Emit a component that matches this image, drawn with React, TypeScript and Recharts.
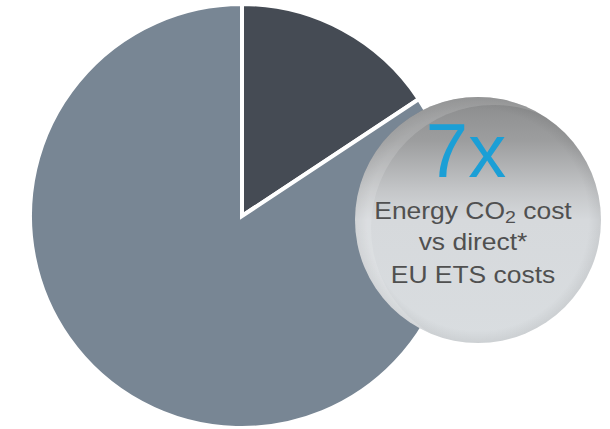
import React from "react";
import { PieChart, Pie, Cell } from "recharts";

const categories = ["Direct EU ETS costs", "Energy CO2 cost"];
const shares = [15.7, 84.3];
const colors = ["#454b54", "#788694"];
const multipleLabel = "7x";
const captionLines = ["Energy CO", "vs direct*", "EU ETS costs"];

const data = categories.map((name, i) => ({ name, value: shares[i] }));

const Badge = () => {
  const cx = 478;
  const cy = 220;
  const r = 123;
  const font = "Liberation Sans, Arial, sans-serif";
  return (
    <svg
      width={610}
      height={429}
      style={{ position: "absolute", left: 0, top: 0, pointerEvents: "none" }}
    >
      <defs>
        <linearGradient id="badgeFill" x1="0" y1="0" x2="0" y2="1">
          <stop offset="0" stopColor="#8a8b8c" />
          <stop offset="0.18" stopColor="#9d9e9f" />
          <stop offset="0.38" stopColor="#c4c6c8" />
          <stop offset="0.5" stopColor="#d6d9dc" />
          <stop offset="1" stopColor="#d9dde0" />
        </linearGradient>
        <radialGradient id="badgeRim" cx="0.5" cy="0.5" r="0.5">
          <stop offset="0.9" stopColor="#000" stopOpacity="0" />
          <stop offset="1" stopColor="#000" stopOpacity="0.06" />
        </radialGradient>
        <mask id="shineMask">
          <circle cx={cx} cy={cy} r={r} fill="#fff" />
          <circle cx={cx + 16} cy={cy + 8} r={r} fill="#000" />
        </mask>
      </defs>
      <circle cx={cx} cy={cy} r={r} fill="url(#badgeFill)" />
      <circle cx={cx} cy={cy} r={r} fill="url(#badgeRim)" />
      <circle cx={cx} cy={cy} r={r} fill="#ffffff" opacity={0.14} mask="url(#shineMask)" />
      <text x={466} y={177} textAnchor="middle" fill="#1b9fd6" fontFamily={font} fontSize={76}>
        {multipleLabel}
      </text>
      <g transform="translate(473 0) scale(1.15 1)" fill="#505050" fontFamily={font} fontSize={23}>
        <text x={0} y={219} textAnchor="middle">
          {captionLines[0]}
          <tspan fontSize={17} dy={4}>2</tspan>
          <tspan dy={-4}> cost</tspan>
        </text>
        <text x={0} y={250} textAnchor="middle">
          {captionLines[1]}
        </text>
        <text x={0} y={283} textAnchor="middle">
          {captionLines[2]}
        </text>
      </g>
    </svg>
  );
};

export default function App() {
  return (
    <div style={{ position: "absolute", left: 0, top: 0, width: 610, height: 429, background: "#fff" }}>
      <PieChart width={610} height={429} margin={{ top: 0, right: 0, bottom: 0, left: 0 }}>
        <Pie
          data={data}
          dataKey="value"
          nameKey="name"
          cx={242}
          cy={216}
          innerRadius={0}
          outerRadius={212}
          startAngle={90}
          endAngle={-270}
          stroke="#ffffff"
          strokeWidth={4}
          isAnimationActive={false}
        >
          {data.map((d, i) => (
            <Cell key={d.name} fill={colors[i]} />
          ))}
        </Pie>
      </PieChart>
      <Badge />
    </div>
  );
}
